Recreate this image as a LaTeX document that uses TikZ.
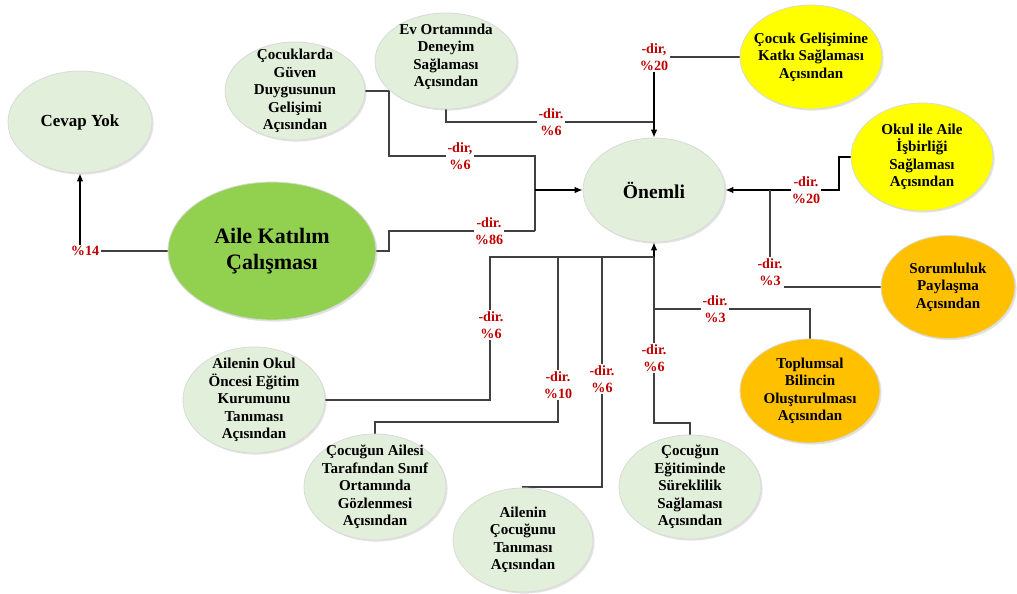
\documentclass[tikz,border=0pt]{standalone}
\usepackage{fontspec}
\setmainfont{Liberation Serif}
\usetikzlibrary{shapes.geometric,arrows.meta,shadows,backgrounds}
\definecolor{elg}{HTML}{E2EFDA}
\definecolor{mg}{HTML}{92D050}
\definecolor{yl}{HTML}{FFFF00}
\definecolor{og}{HTML}{FFC000}
\definecolor{lr}{HTML}{C00000}
\definecolor{ln}{HTML}{404040}
\begin{document}
\begin{tikzpicture}[x=0.75pt,y=-0.75pt,
  ell/.style={ellipse, draw=black!15, line width=0.6pt, inner sep=0pt,
    drop shadow={shadow xshift=1.2pt, shadow yshift=-1.2pt, opacity=0.18, fill=black!60}},
  el/.style 2 args={ell, minimum width=#1*0.75pt, minimum height=#2*0.75pt},
  txt/.style={align=center, inner sep=0pt, font=\bfseries\fontsize{11.3}{13.1}\selectfont},
  lab/.style={align=center, text=lr, fill=white, inner sep=1pt, font=\bfseries\fontsize{10.6}{13.2}\selectfont},
  con/.style={draw=ln, line width=1pt},
  arr/.style={draw=black, line width=1pt, -{Latex[length=6pt,width=5pt]}}
]
\useasboundingbox (0,0) rectangle (1017,593);

% ellipses
\node[el={144}{102}, fill=elg] (cevap) at (80,122) {};
\node[el={208}{138}, fill=mg] (aile) at (272,251) {};
\node[el={142}{104}, fill=elg] (onem) at (654,190) {};
\node[el={140}{98}, fill=elg] (cg) at (295,91) {};
\node[el={142}{96}, fill=elg] (ev) at (446,61) {};
\node[el={142}{104}, fill=yl] (cgm) at (811,57) {};
\node[el={142}{108}, fill=yl] (okul) at (922,157) {};
\node[el={134}{103}, fill=og] (sor) at (948,287) {};
\node[el={140}{104}, fill=og] (top) at (810,391) {};
\node[el={142}{104}, fill=elg] (ceg) at (690,487) {};
\node[el={142}{106}, fill=elg] (aok) at (254,400) {};
\node[el={142}{106}, fill=elg] (cai) at (375,487) {};
\node[el={140}{104}, fill=elg] (acn) at (523,540) {};

% texts
\node[txt, font=\bfseries\fontsize{12.7}{15}\selectfont] (tcevap) at (cevap) {Cevap Yok};
\node[txt, font=\bfseries\fontsize{16.5}{20}\selectfont] (taile) at (aile) {Aile Katılım\\Çalışması};
\node[txt, font=\bfseries\fontsize{14.7}{17}\selectfont] (tonem) at (onem) {Önemli};
\node[txt] (tcg) at (cg) {Çocuklarda\\Güven\\Duygusunun\\Gelişimi\\Açısından};
\node[txt] (tev) at (446,57) {Ev Ortamında\\Deneyim\\Sağlaması\\Açısından};
\node[txt] (tcgm) at (cgm) {Çocuk Gelişimine\\Katkı Sağlaması\\Açısından};
\node[txt] (tokul) at (okul) {Okul ile Aile\\İşbirliği\\Sağlaması\\Açısından};
\node[txt] (tsor) at (sor) {Sorumluluk\\Paylaşma\\Açısından};
\node[txt] (ttop) at (top) {Toplumsal\\Bilincin\\Oluşturulması\\Açısından};
\node[txt] (tceg) at (ceg) {Çocuğun\\Eğitiminde\\Süreklilik\\Sağlaması\\Açısından};
\node[txt] (taok) at (aok) {Ailenin Okul\\Öncesi Eğitim\\Kurumunu\\Tanıması\\Açısından};
\node[txt] (tcai) at (cai) {Çocuğun Ailesi\\Tarafından Sınıf\\Ortamında\\Gözlenmesi\\Açısından};
\node[txt] (tacn) at (acn) {Ailenin\\Çocuğunu\\Tanıması\\Açısından};

% junctions
\coordinate (jL) at (535,190);
\coordinate (jA) at (535,231);
\coordinate (jT) at (654,122);
\coordinate (jR) at (770,190);
\coordinate (jB) at (654,257);

% labels
\node[lab] (l14) at (85,251) {\%14};
\node[lab] (lcg) at (460,156) {-dir,\\\%6};
\node[lab] (l86) at (489,231) {-dir.\\\%86};
\node[lab] (lev) at (551,122) {-dir.\\\%6};
\node[lab] (lcgm) at (654,57) {-dir,\\\%20};
\node[lab] (lok) at (806,190) {-dir.\\\%20};
\node[lab] (lsor) at (770,272) {-dir.\\\%3};
\node[lab] (ltop) at (715,309) {-dir.\\\%3};
\node[lab] (lceg) at (654,358) {-dir.\\\%6};
\node[lab] (lacn) at (602,379) {-dir.\\\%6};
\node[lab] (lcai) at (558,385) {-dir.\\\%10};
\node[lab] (laok) at (491,325) {-dir.\\\%6};

% connectors, behind the labels
\begin{scope}[on background layer]
\draw[con] (aile.west) -- (l14.east);
\draw[arr] (l14.north -| cevap.south) -- (cevap.south);

\draw[con] (cg.east) -| (389,156) -| (jA);
\draw[con] (aile.east) -| (389,231) -- (jA);
\draw[arr] (jL) -- (onem.west);

\draw[con] (ev.south) |- (jT);
\draw[con] (cgm.west) -- (lcgm.east |- cgm.west);
\draw[arr] (lcgm.south) -- (onem.north);

\draw[arr] (okul.west) -| (839,190) -- (onem.east);
\draw[con] (sor.west) -- (sor.west -| lsor.east);
\draw[con] (lsor.north) -- (jR);

\draw[arr] (jB) -- (onem.south);
\draw[con] (aok.east) -| (490,257) -- (jB);
\draw[con] (cai.north) |- (558,422) -- (558,257);
\draw[con] (acn.north) |- (602,487) -- (602,257);
\draw[con] (ceg.north) |- (654,423) -- (jB);
\draw[con] (top.north) |- (654,309);
\end{scope}
\end{tikzpicture}
\end{document}
